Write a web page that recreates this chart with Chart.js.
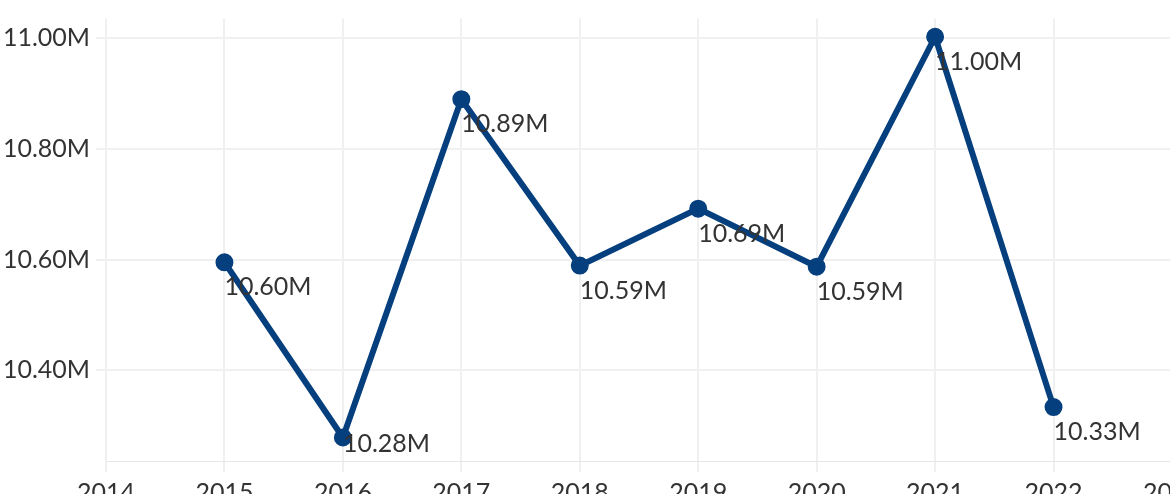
<!DOCTYPE html>
<html>
<head>
<meta charset="utf-8">
<script src="https://cdn.jsdelivr.net/npm/chart.js@4"></script>
<style>
    body { margin: 0; overflow: hidden; background: #fff; }
    #wrap { width: 1207px; height: 494px; position: relative; }
</style>
</head>
<body>
<div id="wrap"><canvas id="trend"></canvas></div>
<script>
const years = [2015, 2016, 2017, 2018, 2019, 2020, 2021, 2022];
const values = [10.595, 10.278, 10.890, 10.589, 10.692, 10.587, 11.003, 10.333];
const valueLabels = ["10.60M", "10.28M", "10.89M", "10.59M", "10.69M", "10.59M", "11.00M", "10.33M"];
const yTicks = [10.4, 10.6, 10.8, 11.0];

const labelPlugin = {
    id: "pointLabels",
    afterDatasetsDraw(chart) {
        const ctx = chart.ctx;
        const meta = chart.getDatasetMeta(0);
        const area = chart.chartArea;
        ctx.save();
        ctx.font = "25px Lato";
        ctx.fillStyle = "#333333";
        ctx.textAlign = "left";
        ctx.textBaseline = "middle";
        meta.data.forEach((pt, i) => {
            let y = pt.y + 25;
            if (y > area.bottom - 17) {
                y = area.bottom - 17;
            }
            ctx.fillText(valueLabels[i], pt.x, y);
        });
        ctx.restore();
    }
};

const canvas = document.getElementById("trend");
const chart = new Chart(canvas, {
    type: "line",
    data: {
        datasets: [{
            data: years.map((y, i) => ({ x: y, y: values[i] })),
            borderColor: "#053f7e",
            backgroundColor: "#053f7e",
            borderWidth: 6,
            pointRadius: 6,
            pointHoverRadius: 6,
            fill: false,
            tension: 0
        }]
    },
    options: {
        responsive: true,
        maintainAspectRatio: false,
        animation: false,
        layout: { padding: { top: 12, left: 0, right: 0, bottom: 0 } },
        plugins: {
            legend: { display: false },
            tooltip: { enabled: false }
        },
        scales: {
            x: {
                type: "linear",
                min: 2014,
                max: 2023,
                afterFit: axis => { axis.height = 33; },
                afterBuildTicks: axis => {
                    axis.ticks = [];
                    for (let y = 2014; y <= 2023; y++) axis.ticks.push({ value: y });
                },
                border: { display: true, color: "#e6e6e6", width: 1 },
                grid: { color: "#f0f0f0", lineWidth: 2, tickLength: 11, drawTicks: true },
                ticks: {
                    color: "#333333",
                    font: { family: "Lato", size: 25 },
                    padding: 6,
                    maxRotation: 0,
                    autoSkip: false,
                    callback: v => String(v)
                }
            },
            y: {
                min: 10.2355,
                max: 11.036,
                afterFit: axis => { axis.width = 106; },
                afterBuildTicks: axis => {
                    axis.ticks = yTicks.map(v => ({ value: v }));
                },
                border: { display: false },
                grid: { color: "#f0f0f0", lineWidth: 2, tickLength: 10, drawTicks: true },
                ticks: {
                    color: "#333333",
                    font: { family: "Lato", size: 25, lineHeight: 1 },
                    padding: 6,
                    callback: v => v.toFixed(2) + "M"
                }
            }
        }
    },
    plugins: [labelPlugin]
});
</script>
</body>
</html>
